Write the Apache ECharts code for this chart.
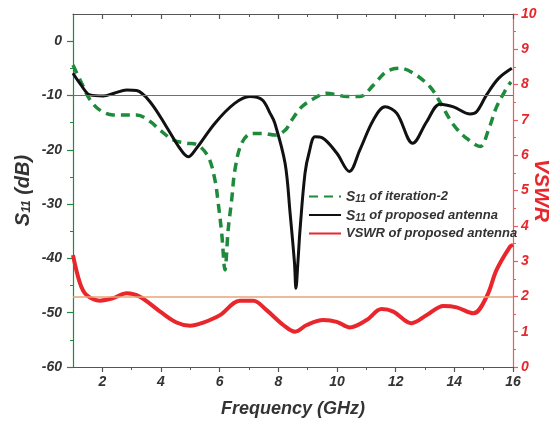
<!DOCTYPE html>
<html>
<head>
<meta charset="utf-8">
<script src="https://cdn.jsdelivr.net/npm/echarts@6/dist/echarts.min.js"></script>
<style>
  html, body { margin: 0; padding: 0; background: #ffffff; }
  #chart { width: 551px; height: 430px; }
</style>
</head>
<body>
<div id="chart"></div>
<script>
// Frequency tick labels (GHz) and minor tick positions
const freqMajorTicks = [2, 4, 6, 8, 10, 12, 14, 16];
const freqMinorTicks = [3, 5, 7, 9, 11, 13, 15];
// S11 axis ticks (dB)
const s11MajorTicks = [-60, -50, -40, -30, -20, -10, 0];
const s11MinorTicks = [-55, -45, -35, -25, -15, -5];
// VSWR axis ticks
const vswrMajorTicks = [0, 1, 2, 3, 4, 5, 6, 7, 8, 9, 10];
const vswrMinorTicks = [0.5, 1.5, 2.5, 3.5, 4.5, 5.5, 6.5, 7.5, 8.5, 9.5];

// S11 of iteration-2
const iterFreq = [1.0, 1.3, 1.58, 1.92, 2.37, 3.17, 3.63, 3.97, 4.42, 4.88, 5.2, 5.61, 5.84, 5.95, 6.07, 6.18,
  6.29, 6.41, 6.52, 6.75, 7.09, 7.49, 7.88, 8.23, 8.46, 8.8, 9.2, 9.65, 10.0, 10.33, 10.78, 11.24, 11.69,
  12.15, 12.6, 13.17, 13.51, 13.97, 14.42, 14.88, 15.16, 15.44, 15.78, 15.93];
const iterS11 = [-4.4, -7.8, -10.8, -12.7, -13.6, -13.6, -14.8, -16.4, -18.2, -18.8, -19.0, -21.3, -25.6, -29.8, -35.4, -42.1,
  -34.7, -29.2, -23.7, -18.8, -17.0, -17.0, -17.3, -16.4, -14.5, -12.1, -10.6, -9.6, -9.9, -10.2, -10.2, -8.1, -5.6,
  -5.0, -5.9, -8.4, -11.2, -15.4, -17.9, -19.4, -16.4, -12.1, -8.7, -7.5];

// S11 of proposed antenna
const propFreq = [1.0, 1.24, 1.58, 2.03, 2.4, 2.83, 3.17, 3.63, 4.19, 4.6, 4.93, 5.2, 5.84, 6.5, 7.03, 7.45, 7.72,
  7.88, 8.23, 8.4, 8.55, 8.6, 8.67, 8.74, 8.91, 9.05, 9.25, 9.5, 9.99, 10.42, 10.78, 11.24, 11.64, 12.04, 12.58,
  13.06, 13.51, 13.97, 14.54, 14.76, 15.1, 15.5, 15.96];
const propS11 = [-5.9, -7.8, -9.9, -10.1, -9.6, -9.0, -9.1, -11.2, -15.8, -19.4, -21.3, -19.8, -15.1, -11.5, -10.2, -10.8, -13.3,
  -15.1, -22.5, -31.6, -40.8, -45.5, -40.5, -34.7, -24.3, -20.5, -17.6, -17.8, -20.6, -24.0, -20.0, -14.5, -12.1, -13.3, -18.8,
  -14.8, -11.6, -12.1, -13.4, -13.0, -9.9, -6.9, -5.0];

// VSWR of proposed antenna
const vswrFreq = [1.0, 1.24, 1.46, 1.92, 2.37, 2.83, 3.28, 3.97, 4.53, 4.99, 5.44, 6.01, 6.69, 7.15, 7.6, 8.17, 8.57,
  8.97, 9.53, 9.99, 10.44, 11.01, 11.52, 11.92, 12.54, 13.06, 13.63, 14.08, 14.65, 15.1, 15.44, 15.9, 16.0];
const vswrValues = [3.17, 2.37, 2.04, 1.88, 1.95, 2.09, 1.99, 1.57, 1.26, 1.17, 1.26, 1.47, 1.88, 1.88, 1.61, 1.19, 1.0,
  1.19, 1.33, 1.28, 1.12, 1.33, 1.64, 1.57, 1.24, 1.47, 1.73, 1.69, 1.52, 1.99, 2.75, 3.41, 3.46];

const seriesNames = ['S11 of iteration-2', 'S11 of proposed antenna', 'VSWR of proposed antenna'];

const pairs = (xs, ys) => xs.map((x, i) => [x, ys[i]]);

const FONT = "'Liberation Sans', Arial, sans-serif";
const GREEN = '#1d8a3c';
const RED = '#e8262c';

const legendRich = {
  s: { fontFamily: FONT, fontSize: 14, fontStyle: 'italic', fontWeight: 'bold', color: '#333', lineHeight: 16, verticalAlign: 'bottom' },
  sub: { fontFamily: FONT, fontSize: 10, fontStyle: 'italic', fontWeight: 'bold', color: '#333', lineHeight: 14, verticalAlign: 'bottom' }
};

const tickLabel = (color) => ({
  fontFamily: FONT, fontSize: 14, fontStyle: 'italic', fontWeight: 'bold', color: color
});

const chart = echarts.init(document.getElementById('chart'), null, { renderer: 'canvas' });

chart.setOption({
  backgroundColor: '#ffffff',
  animation: false,
  grid: { left: 73, right: 38, top: 14, bottom: 63, containLabel: false, outerBoundsMode: 'none' },
  legend: {
    orient: 'vertical',
    left: 303,
    top: 185,
    itemWidth: 32,
    itemHeight: 12,
    itemGap: 4,
    data: seriesNames,
    itemStyle: { opacity: 0 },
    formatter: (name) => name.replace('S11', '{s|S}{sub|11}'),
    textStyle: {
      fontFamily: FONT, fontSize: 13, fontStyle: 'italic', fontWeight: 'bold', color: '#333',
      rich: legendRich
    }
  },
  xAxis: [
    {
      type: 'value', min: 1, max: 16, interval: 1, position: 'bottom',
      axisLine: { onZero: false, lineStyle: { color: '#555', width: 1.2 } },
      axisTick: { show: true, length: 5, customValues: freqMajorTicks, lineStyle: { color: '#555', width: 1.2 } },
      axisLabel: { customValues: freqMajorTicks, margin: 8, ...tickLabel('#333') },
      splitLine: { show: false },
      name: 'Frequency (GHz)', nameLocation: 'middle', nameGap: 33, nameMoveOverlap: false,
      nameTextStyle: { fontFamily: FONT, fontSize: 18, fontStyle: 'italic', fontWeight: 'bold', color: '#333' }
    },
    {
      type: 'value', min: 1, max: 16, position: 'bottom',
      axisLine: { show: false, onZero: false },
      axisTick: { show: true, length: 3, customValues: freqMinorTicks, lineStyle: { color: '#555', width: 1 } },
      axisLabel: { show: false }, splitLine: { show: false }
    },
    {
      type: 'value', min: 1, max: 16, position: 'top',
      axisLine: { onZero: false, lineStyle: { color: '#555', width: 1.2 } },
      axisTick: { show: true, inside: true, length: 5, customValues: freqMajorTicks, lineStyle: { color: '#555', width: 1.2 } },
      axisLabel: { show: false }, splitLine: { show: false }
    },
    {
      type: 'value', min: 1, max: 16, position: 'top',
      axisLine: { show: false, onZero: false },
      axisTick: { show: true, inside: true, length: 3, customValues: freqMinorTicks, lineStyle: { color: '#555', width: 1 } },
      axisLabel: { show: false }, splitLine: { show: false }
    }
  ],
  yAxis: [
    {
      type: 'value', min: -60, max: 5, position: 'left',
      axisLine: { show: true, onZero: false, lineStyle: { color: GREEN, width: 1.2 } },
      axisTick: { show: true, length: 6, customValues: s11MajorTicks, lineStyle: { color: GREEN, width: 1.2 } },
      axisLabel: { customValues: s11MajorTicks, margin: 11, ...tickLabel('#333') },
      splitLine: { show: false },
      name: '{n|S}{nsub|11}{n| (dB)}', nameLocation: 'middle', nameGap: 40, nameRotate: 90, nameMoveOverlap: false,
      nameTextStyle: {
        rich: {
          n: { fontFamily: FONT, fontSize: 20, fontStyle: 'italic', fontWeight: 'bold', color: '#333', lineHeight: 24, verticalAlign: 'bottom' },
          nsub: { fontFamily: FONT, fontSize: 12, fontStyle: 'italic', fontWeight: 'bold', color: '#333', lineHeight: 20, verticalAlign: 'bottom' }
        }
      }
    },
    {
      type: 'value', min: -60, max: 5, position: 'left',
      axisLine: { show: false, onZero: false },
      axisTick: { show: true, length: 3, customValues: s11MinorTicks, lineStyle: { color: GREEN, width: 1 } },
      axisLabel: { show: false }, splitLine: { show: false }
    },
    {
      type: 'value', min: 0, max: 10, position: 'right',
      axisLine: { show: true, onZero: false, lineStyle: { color: '#ee5a5e', width: 1.2 } },
      axisTick: { show: true, length: 5, customValues: vswrMajorTicks, lineStyle: { color: '#ee5a5e', width: 1.2 } },
      axisLabel: { customValues: vswrMajorTicks, margin: 8, ...tickLabel(RED) },
      splitLine: { show: false },
      name: 'VSWR', nameLocation: 'middle', nameGap: 17, nameRotate: -90, nameMoveOverlap: false,
      nameTextStyle: { fontFamily: FONT, fontSize: 21, fontStyle: 'italic', fontWeight: 'bold', color: RED }
    },
    {
      type: 'value', min: 0, max: 10, position: 'right',
      axisLine: { show: false, onZero: false },
      axisTick: { show: true, length: 3, customValues: vswrMinorTicks, lineStyle: { color: '#ee5a5e', width: 1 } },
      axisLabel: { show: false }, splitLine: { show: false }
    }
  ],
  series: [
    {
      name: seriesNames[0], type: 'line', xAxisIndex: 0, yAxisIndex: 0,
      data: pairs(iterFreq, iterS11), smooth: 0.35, symbol: 'none', z: 3,
      color: GREEN,
      lineStyle: { color: GREEN, width: 3.5, type: [9, 6] }
    },
    {
      name: seriesNames[1], type: 'line', xAxisIndex: 0, yAxisIndex: 0,
      data: pairs(propFreq, propS11), smooth: 0.35, symbol: 'none', z: 4,
      color: '#111111',
      lineStyle: { color: '#111111', width: 3 },
      markLine: {
        silent: true, symbol: 'none', label: { show: false },
        lineStyle: { color: '#6f6f6f', width: 1, type: 'solid' },
        data: [{ yAxis: -10 }]
      }
    },
    {
      name: seriesNames[2], type: 'line', xAxisIndex: 0, yAxisIndex: 2,
      data: pairs(vswrFreq, vswrValues), smooth: 0.35, symbol: 'none', z: 4,
      color: RED,
      lineStyle: { color: RED, width: 4 },
      markLine: {
        silent: true, symbol: 'none', label: { show: false },
        lineStyle: { color: '#e9a476', width: 1.5, type: 'solid' },
        data: [{ yAxis: 2 }]
      }
    }
  ]
});
</script>
</body>
</html>
